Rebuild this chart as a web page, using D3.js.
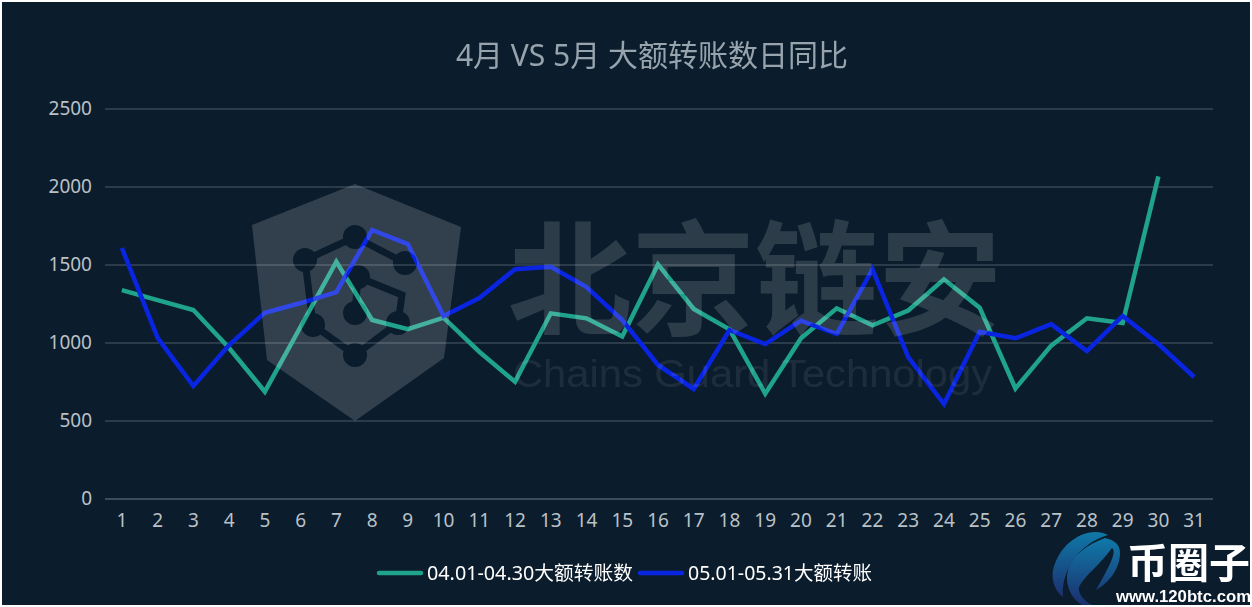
<!DOCTYPE html>
<html>
<head>
<meta charset="utf-8">
<script src="https://cdn.jsdelivr.net/npm/d3@7"></script>
<style>
html, body { margin: 0; padding: 0; background: #fff; overflow: hidden; }
svg { display: block; }
</style>
</head>
<body>
<svg id="chart" width="1252" height="607"></svg>
<script>
"use strict";

var chartTitle = "4月 VS 5月 大额转账数日同比";
var days = d3.range(1, 32).map(String);
var yTicks = [0, 500, 1000, 1500, 2000, 2500];
var aprilName = "04.01-04.30大额转账数";
var mayName = "05.01-05.31大额转账";
var aprilValues = [1336, 1272, 1208, 965, 685, 1101, 1518, 1144, 1085, 1159, 941, 748, 1187, 1155, 1038, 1501, 1215, 1084, 672, 1027, 1219, 1110, 1205, 1405, 1223, 705, 980, 1155, 1125, 2065];
var mayValues = [1606, 1030, 721, 984, 1191, 1253, 1323, 1721, 1631, 1170, 1285, 1470, 1486, 1355, 1144, 856, 702, 1080, 990, 1140, 1054, 1470, 906, 605, 1069, 1027, 1118, 945, 1170, 990, 779];

var svg = d3.select("#chart");
var font = "'Noto Sans', 'Noto Sans CJK SC', sans-serif";
var cjkFont = "'Noto Sans CJK SC', 'Noto Sans', sans-serif";
var defs = svg.append("defs");

svg.append("rect")
	.attr("x", 2).attr("y", 2)
	.attr("width", 1248).attr("height", 603)
	.style("fill", "#0b1c2c");

var x = d3.scaleBand().domain(days).range([104, 1212]);
var y = d3.scaleLinear().domain([0, 2500]).range([498.5, 108.5]);

//gridlines first, they sit under everything else
var yAxis = svg.append("g")
	.attr("transform", "translate(105,0)")
	.call(d3.axisLeft(y).tickValues(yTicks).tickFormat(d3.format("d")).tickSize(-1108).tickPadding(13));
yAxis.select(".domain").remove();
yAxis.selectAll("line")
	.style("stroke", function(d){ return d == 0 ? "#3d4c59" : "#2b3b49"; })
	.style("stroke-width", "2px");
yAxis.selectAll("text")
	.style("font-family", font)
	.style("font-size", "19px")
	.style("fill", "#bac1c7");

var xAxis = svg.append("g")
	.attr("transform", "translate(0,498.5)")
	.call(d3.axisBottom(x).tickSize(0).tickPadding(15));
xAxis.select(".domain").remove();
xAxis.selectAll("text")
	.style("font-family", font)
	.style("font-size", "19px")
	.style("fill", "#bac1c7");

function drawSeries(values, color){
	var line = d3.line()
		.x(function(d, i){ return x(days[i]) + x.bandwidth()/2; })
		.y(function(d){ return y(d); });
	svg.append("path")
		.datum(values)
		.attr("d", line)
		.style("fill", "none")
		.style("stroke", color)
		.style("stroke-width", "4.5px")
		.style("stroke-linejoin", "miter");
}
drawSeries(aprilValues, "#1fa38b");
drawSeries(mayValues, "#0a25e2");

//the watermark is laid over the lines, they show through it
defs.append("filter").attr("id", "soft")
	.append("feGaussianBlur").attr("stdDeviation", 0.7);
var markFill = "#ffffff";
var mark = svg.append("g").attr("filter", "url(#soft)");

var logoNodes = [[355, 237], [305, 260], [405, 263], [358, 277], [355, 313], [398, 323], [313, 325], [355, 355]];
var logoLinks = "M355 237L305 260L313 325L355 355L398 323L402 295L358 277M355 237L405 263M358 277L355 313";
var shieldMask = defs.append("mask").attr("id", "shieldMask");
shieldMask.append("rect").attr("width", 1252).attr("height", 607).style("fill", "#fff");
shieldMask.selectAll("circle")
	.data(logoNodes)
	.enter()
	.append("circle")
	.attr("cx", function(d){ return d[0]; })
	.attr("cy", function(d){ return d[1]; })
	.attr("r", 12)
	.style("fill", "#000");
shieldMask.append("path")
	.attr("d", logoLinks)
	.style("fill", "none")
	.style("stroke", "#000")
	.style("stroke-width", "7px");
mark.append("path")
	.attr("d", "M355 184L461 227L444 358L355 421L267 360L252 225Z")
	.attr("mask", "url(#shieldMask)")
	.style("fill", markFill)
	.style("opacity", 0.16);
mark.append("text")
	.attr("x", 508).attr("y", 325)
	.attr("textLength", 494)
	.attr("lengthAdjust", "spacingAndGlyphs")
	.style("font-family", cjkFont)
	.style("font-weight", "700")
	.style("font-size", "124px")
	.style("fill", markFill)
	.style("opacity", 0.14)
	.text("北京链安");
mark.append("text")
	.attr("x", 513).attr("y", 387)
	.attr("textLength", 479)
	.attr("lengthAdjust", "spacingAndGlyphs")
	.style("font-family", "'Liberation Sans', sans-serif")
	.style("font-size", "38px")
	.style("fill", markFill)
	.style("opacity", 0.08)
	.text("Chains Guard Technology");

svg.append("text")
	.attr("x", 652).attr("y", 66)
	.attr("text-anchor", "middle")
	.style("font-family", font)
	.style("font-size", "30px")
	.style("fill", "#98a4ad")
	.text(chartTitle);

var legendItems = [
	{name: aprilName, color: "#1fa38b", x1: 379, x2: 421, textX: 427, textW: 206},
	{name: mayName, color: "#0a25e2", x1: 640, x2: 682, textX: 688, textW: 184}
];
var legend = svg.selectAll(".legendItem")
	.data(legendItems)
	.enter()
	.append("g")
	.attr("class", "legendItem");
legend.append("line")
	.attr("x1", function(d){ return d.x1; })
	.attr("x2", function(d){ return d.x2; })
	.attr("y1", 573).attr("y2", 573)
	.style("stroke", function(d){ return d.color; })
	.style("stroke-width", "4.5px")
	.style("stroke-linecap", "round");
legend.append("text")
	.attr("x", function(d){ return d.textX; })
	.attr("y", 580)
	.attr("textLength", function(d){ return d.textW; })
	.attr("lengthAdjust", "spacingAndGlyphs")
	.style("font-family", font)
	.style("font-size", "19px")
	.style("fill", "#ffffff")
	.text(function(d){ return d.name; });

//site badge in the bottom right corner
var badgeBlue = defs.append("linearGradient")
	.attr("id", "badgeBlue")
	.attr("x1", 0).attr("y1", 0).attr("x2", 0).attr("y2", 1);
badgeBlue.append("stop").attr("offset", "0").style("stop-color", "#0f79a8");
badgeBlue.append("stop").attr("offset", "1").style("stop-color", "#1c2f6e");
var badge = svg.append("g");
badge.append("path")
	.attr("d", "M1108 535C1090 525 1060 540 1053 570C1051 582 1056 592 1063 597C1061 575 1075 545 1108 535Z")
	.style("fill", "url(#badgeBlue)");
badge.append("path")
	.attr("d", "M1105 538C1085 545 1066 560 1067 580C1068 592 1074 600 1082 605L1092 605C1082 600 1078 592 1079 587C1085 575 1100 565 1112 548C1117 552 1110 565 1096 590C1110 582 1120 568 1120 553C1120 544 1114 540 1105 538Z")
	.style("fill", "url(#badgeBlue)");
badge.append("text")
	.attr("x", 1127).attr("y", 578)
	.attr("textLength", 123)
	.attr("lengthAdjust", "spacingAndGlyphs")
	.style("font-family", cjkFont)
	.style("font-weight", "700")
	.style("font-size", "41px")
	.style("fill", "#ffffff")
	.text("币圈子");
badge.append("text")
	.attr("x", 1116).attr("y", 602)
	.attr("textLength", 135)
	.attr("lengthAdjust", "spacingAndGlyphs")
	.style("font-family", "'Liberation Sans', sans-serif")
	.style("font-weight", "700")
	.style("font-size", "16px")
	.style("fill", "#ffffff")
	.text("www.120btc.com");
</script>
</body>
</html>
